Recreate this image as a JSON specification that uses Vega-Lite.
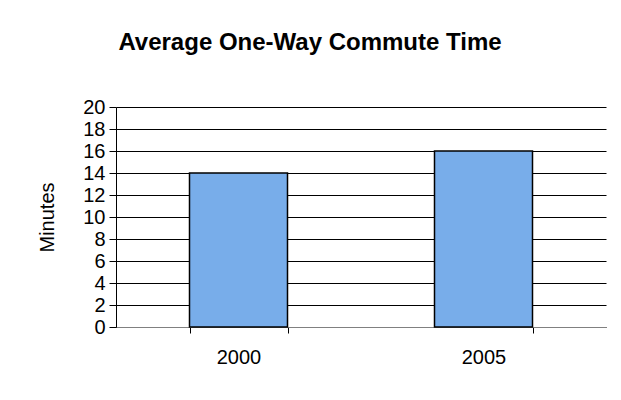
{
  "$schema": "https://vega.github.io/schema/vega-lite/v6.json",
  "width": 490,
  "height": 220,
  "autosize": "none",
  "padding": {"left": 116, "top": 107, "right": 15, "bottom": 73},
  "background": "white",
  "title": {
    "text": "Average One-Way Commute Time",
    "font": "Liberation Sans",
    "fontSize": 24,
    "fontWeight": "bold",
    "color": "black",
    "anchor": "middle",
    "frame": "group",
    "dx": -51,
    "offset": 42
  },
  "data": {"values": [
    {"year": "2000", "minutes": 14},
    {"year": "2005", "minutes": 16}
  ]},
  "mark": {"type": "bar", "color": "#78adea", "stroke": "black", "strokeWidth": 1.5},
  "encoding": {
    "x": {
      "field": "year", "type": "nominal",
      "scale": {"paddingInner": 0.6, "paddingOuter": 0.3},
      "axis": {"title": null, "labelAngle": 0, "tickBand": "extent", "tickSize": 6, "tickColor": "black", "domainColor": "#808080", "labelPadding": 14, "labelFontSize": 20, "labelFont": "Liberation Sans", "labelColor": "black", "grid": false}
    },
    "y": {
      "field": "minutes", "type": "quantitative",
      "scale": {"domain": [0, 20], "nice": false},
      "axis": {"title": "Minutes", "titleFont": "Liberation Sans", "titleFontSize": 20, "titleFontWeight": "normal", "titleColor": "black", "titlePadding": 25, "values": [0,2,4,6,8,10,12,14,16,18,20], "tickSize": 7, "tickColor": "black", "domainColor": "black", "gridColor": "black", "gridOpacity": 1, "labelFontSize": 20, "labelFont": "Liberation Sans", "labelColor": "black", "labelPadding": 4}
    }
  },
  "config": {"view": {"stroke": null}}
}
